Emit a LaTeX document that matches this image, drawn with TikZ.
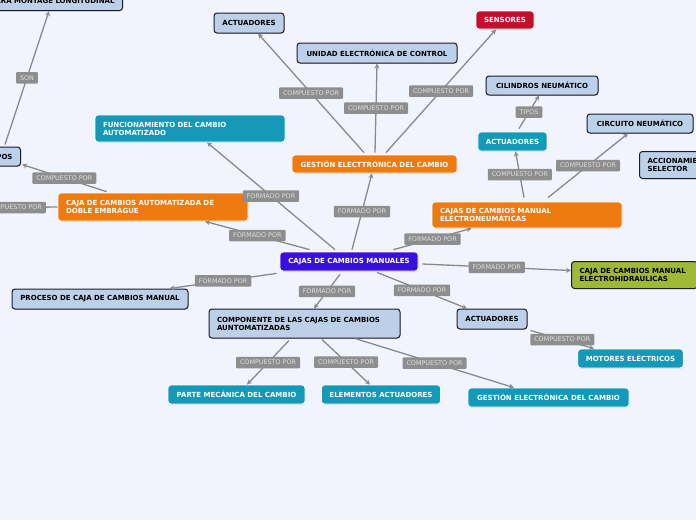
\documentclass[tikz,border=0pt]{standalone}
\usepackage{fontspec}
\setmainfont{DejaVu Sans}
\usetikzlibrary{arrows.meta,shadows}
\definecolor{bg}{HTML}{F2F4FD}
\definecolor{lblue}{HTML}{BCD0E9}
\definecolor{dark}{HTML}{1C1C28}
\definecolor{teal}{HTML}{1499B8}
\definecolor{orng}{HTML}{EE7A10}
\definecolor{purp}{HTML}{3A10E0}
\definecolor{redc}{HTML}{C20F2E}
\definecolor{grn}{HTML}{A0B833}
\definecolor{lgray}{HTML}{8A8A8A}
\definecolor{gfill}{HTML}{8E8E8E}
\definecolor{gtext}{HTML}{DEDEDE}
\begin{document}
\begin{tikzpicture}[x=1pt,y=-1pt,
 box/.style={rounded corners=3pt, inner xsep=8pt, inner ysep=2pt, font=\fontsize{7}{8}\selectfont\bfseries},
 sz/.style 2 args={minimum width=#1, minimum height=#2},
 lb/.style={box, fill=lblue, draw=dark, line width=1pt, text=black, drop shadow={opacity=0.3, shadow xshift=0.6pt, shadow yshift=-0.8pt}},
 col/.style={box, fill=#1, draw=white, line width=0.8pt, text=white, drop shadow={opacity=0.2, shadow xshift=0.6pt, shadow yshift=-0.8pt}},
 gb/.style={box, fill=grn, draw=dark, line width=1pt, text=black},
 conn/.style={draw=lgray, line width=1.3pt, -{Stealth[length=5pt,width=5pt]}},
 lbl/.style={fill=gfill, text=gtext, rounded corners=1pt, inner xsep=4pt, inner ysep=1pt, minimum height=11.5pt, font=\fontsize{6.4}{7}\selectfont}
]
\useasboundingbox (0,0) rectangle (696,520);
\fill[bg] (0,0) rectangle (696,520);

% nodes
\node[lb, minimum height=20, anchor=south east] (mont) at (123,11) {PARA MONTAGE LONGITUDINAL};
\node[lb, minimum height=19, anchor=east] (tipos) at (21,156.5) {TIPOS};
\node[lb, sz={70}{20}] (act1) at (249,23) {ACTUADORES};
\node[lb, sz={160}{20}] (uec) at (377,53) {UNIDAD ELECTRÓNICA DE CONTROL};
\node[col=redc, sz={58}{18}] (sens) at (505,20) {SENSORES};
\node[col=orng, sz={165}{18}] (gest1) at (374.5,164) {GESTIÓN ELECTTRÓNICA DEL CAMBIO};
\node[col=teal, minimum height=27, text width=174, align=left] (func) at (190,128.5) {FUNCIONAMIENTO DEL CAMBIO\\AUTOMATIZADO};
\node[col=orng, minimum height=28, text width=174, align=left] (dbl) at (153,207) {CAJA DE CAMBIOS AUTOMATIZADA DE\\DOBLE EMBRAGUE};
\node[lb, sz={112}{19}] (cil) at (542,85.5) {CILINDROS NEUMÁTICO};
\node[col=teal, sz={69}{19}] (act2) at (512.5,141.5) {ACTUADORES};
\node[lb, sz={106}{19}] (circ) at (640,123.5) {CIRCUITO NEUMÁTICO};
\node[lb, minimum height=27, text width=90, align=left, anchor=north west] (acc) at (639,151) {ACCIONAMIENTO DEL\\SELECTOR};
\node[col=orng, minimum height=26, text width=174, align=left] (eneu) at (527,215) {CAJAS DE CAMBIOS MANUAL\\ELECTRONEUMÁTICAS};
\node[gb, minimum height=27, text width=110, align=left, anchor=north west] (ehid) at (571,261) {CAJA DE CAMBIOS MANUAL\\ELECTROHIDRAULICAS};
\node[col=purp, sz={138}{19}] (man) at (349,261.5) {CAJAS DE CAMBIOS MANUALES};
\node[lb, sz={176}{20}] (proc) at (100,299) {PROCESO DE CAJA DE CAMBIOS MANUAL};
\node[lb, minimum height=29, text width=175, align=left] (comp) at (304.5,323.5) {COMPONENTE DE LAS CAJAS DE CAMBIOS\\AUNTOMATIZADAS};
\node[lb, sz={70}{20}] (act3) at (492,319) {ACTUADORES};
\node[col=teal, sz={137}{19}] (parte) at (236.5,394.5) {PARTE MECÁNICA DEL CAMBIO};
\node[col=teal, sz={118}{19}] (elem) at (381,394.5) {ELEMENTOS ACTUADORES};
\node[col=teal, sz={161}{19}] (gest2) at (548.5,397.5) {GESTIÓN ELECTRÓNICA DEL CAMBIO};
\node[col=teal, sz={105}{19}] (mot) at (630.5,358.5) {MOTORES ELÉCTRICOS};
\coordinate (offl) at (-30,208);

% connectors
\draw[conn] ([shift={(-14,-2)}]man.north) -- node[lbl]{FORMADO POR} ([shift={(17,0)}]func.south);
\draw[conn] ([shift={(30,-2)}]man.north west) -- node[lbl]{FORMADO POR} ([shift={(52,0)}]dbl.south);
\draw[conn] ([shift={(3,-2)}]man.north) -- node[lbl]{FORMADO POR} ([shift={(-2.5,0)}]gest1.south);
\draw[conn] ([shift={(-25,-2)}]man.north east) -- node[lbl]{FORMADO POR} ([shift={(40,0)}]eneu.south west);
\draw[conn] ([shift={(4,2.5)}]man.east) -- node[lbl]{FORMADO POR} ([shift={(0,-4.5)}]ehid.west);
\draw[conn] ([shift={(28,1)}]man.south) -- node[lbl]{FORMADO POR} ([shift={(-25,0)}]act3.north);
\draw[conn] ([shift={(-9,3)}]man.south) -- node[lbl]{FORMADO POR} ([shift={(9.5,0)}]comp.north);
\draw[conn] ([shift={(-3,2)}]man.south west) -- node[lbl]{FORMADO POR} ([shift={(-19,0)}]proc.north east);
\draw[conn] ([shift={(-10.5,-2)}]gest1.north) -- node[lbl]{COMPUESTO POR} ([shift={(9,0)}]act1.south);
\draw[conn] ([shift={(0.5,-2)}]gest1.north) -- node[lbl]{COMPUESTO POR} (uec.south);
\draw[conn] ([shift={(11.5,-2)}]gest1.north) -- node[lbl]{COMPUESTO POR} ([shift={(-9,0)}]sens.south);
\draw[conn] ([shift={(49,-1)}]dbl.north west) -- node[lbl]{COMPUESTO POR} ([shift={(1,-2)}]tipos.south east);
\draw[conn] (dbl.west) -- node[lbl]{COMPUESTO POR} (offl);
\draw[conn] ([shift={(-16,-2)}]tipos.north east) -- node[lbl]{SON} ([shift={(-74,0)}]mont.south east);
\draw[conn] ([shift={(-3,-4)}]eneu.north) -- node[lbl]{COMPUESTO POR} ([shift={(3,0)}]act2.south);
\draw[conn] ([shift={(21,-4)}]eneu.north) -- node[lbl]{COMPUESTO POR} ([shift={(-12,0)}]circ.south);
\draw[conn] ([shift={(6.5,-3)}]act2.north) -- node[lbl]{TIPOS} ([shift={(-3,0)}]cil.south);
\draw[conn] ([shift={(-15.5,2)}]comp.south) -- node[lbl]{COMPUESTO POR} ([shift={(10.5,0)}]parte.north);
\draw[conn] ([shift={(17.5,1)}]comp.south) -- node[lbl]{COMPUESTO POR} ([shift={(-11,0)}]elem.north);
\draw[conn] ([shift={(50.5,0)}]comp.south) -- node[lbl]{COMPUESTO POR} ([shift={(-34.5,0)}]gest2.north);
\draw[conn] ([shift={(3,1)}]act3.south east) -- node[lbl]{COMPUESTO POR} ([shift={(-36.5,0)}]mot.north);
\end{tikzpicture}
\end{document}
